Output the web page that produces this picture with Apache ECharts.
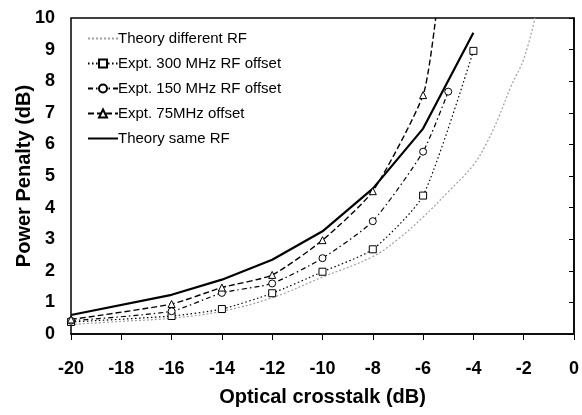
<!DOCTYPE html>
<html>
<head>
<meta charset="utf-8">
<script src="https://cdn.jsdelivr.net/npm/echarts@6/dist/echarts.min.js"></script>
<style>
  html, body { margin: 0; padding: 0; background: #fff; }
  #chart { width: 582px; height: 415px; }
</style>
</head>
<body>
<div id="chart"></div>
<script>
// 数据: 串扰 (dB) 与 功率代价 (dB)
var xTicks = [-20, -18, -16, -14, -12, -10, -8, -6, -4, -2, 0];
var yTicks = [0, 1, 2, 3, 4, 5, 6, 7, 8, 9, 10];

var theoryDiff = [[-20, 0.3], [-18, 0.4], [-16, 0.5], [-14, 0.72], [-12, 1.15], [-10, 1.8],
    [-8, 2.45], [-7, 3.0], [-6, 3.7], [-5, 4.5], [-4, 5.35], [-3.5, 6.0], [-3, 6.85], [-2.5, 7.85], [-2, 8.7], [-1.55, 10]];
var expt300 = [[-20, 0.38], [-16, 0.57], [-14, 0.79], [-12, 1.29], [-10, 1.97], [-8, 2.68], [-6, 4.38], [-4, 8.96]];
var expt150 = [[-20, 0.42], [-16, 0.72], [-14, 1.3], [-12, 1.6], [-10, 2.4], [-8, 3.57], [-6, 5.77], [-5, 7.67]];
var expt75 = [[-20, 0.46], [-16, 0.95], [-14, 1.47], [-12, 1.87], [-10, 2.97], [-8, 4.52], [-6, 7.56]];
var expt75Tail = [-5.5, 10];
var theorySame = [[-20, 0.6], [-16, 1.24], [-14, 1.72], [-12, 2.35], [-10, 3.25], [-8, 4.6], [-6, 6.5], [-4, 9.53]];

var boldFont = 'Liberation Sans, Arial, sans-serif';

//空心标记的实验曲线
function exptSeries(name, symbol, data, dash, width) {
    return {
        name: name,
        type: 'line',
        smooth: 0.2,
        symbol: symbol,
        symbolSize: 7,
        data: data,
        lineStyle: { color: '#000', width: width, type: dash },
        itemStyle: { color: '#fff', borderColor: '#000', borderWidth: 1 }
    };
}

var series = [];
series.push({
    name: 'Theory different RF',
    type: 'line',
    smooth: 0.4,
    symbol: 'none',
    data: theoryDiff,
    lineStyle: { color: '#a0a0a0', width: 1.2, type: [2, 2] },
    itemStyle: { color: 'rgba(0,0,0,0)' }
});
series.push(exptSeries('Expt. 300 MHz RF offset', 'rect', expt300, [1.5, 2.5], 1.2));
series.push(exptSeries('Expt. 150 MHz RF offset', 'circle', expt150, [5, 3, 1.5, 3], 1.2));
series.push(exptSeries('Expt. 75MHz offset', 'triangle',
    expt75.concat([{ value: expt75Tail, symbol: 'none' }]), [6, 3], 1.4));
series.push({
    name: 'Theory same RF',
    type: 'line',
    symbol: 'none',
    data: theorySame,
    lineStyle: { color: '#000', width: 2.2 },
    itemStyle: { color: 'rgba(0,0,0,0)' }
});

var myChart = echarts.init(document.getElementById('chart'));
var option = {
    backgroundColor: '#fff',
    animation: false,
    grid: {
        left: 71,
        right: 5,
        top: 18,
        bottom: 81,
        show: true,
        borderColor: '#000',
        borderWidth: 1.5,
        backgroundColor: 'transparent'
    },
    legend: {
        left: 82,
        top: 26,
        orient: 'vertical',
        itemGap: 10,
        itemWidth: 30,
        itemHeight: 10,
        textStyle: { fontFamily: boldFont, fontSize: 15, color: '#000', padding: [0, 0, 0, -5] },
        data: series.map(function (s) { return s.name; })
    },
    xAxis: {
        type: 'value',
        min: xTicks[0],
        max: xTicks[xTicks.length - 1],
        interval: 2,
        name: 'Optical crosstalk (dB)',
        nameLocation: 'middle',
        nameGap: 53,
        nameMoveOverlap: false,
        nameTextStyle: { fontFamily: boldFont, fontSize: 20, fontWeight: 'bold', color: '#000' },
        axisLine: { show: true, lineStyle: { color: '#000', width: 1.5 } },
        axisTick: { show: true, length: 6, lineStyle: { color: '#000' } },
        axisLabel: { margin: 26, fontFamily: boldFont, fontSize: 18, fontWeight: 'bold', color: '#000' },
        splitLine: { show: false }
    },
    yAxis: {
        type: 'value',
        min: yTicks[0],
        max: yTicks[yTicks.length - 1],
        interval: 1,
        name: 'Power Penalty (dB)',
        nameLocation: 'middle',
        nameGap: 37,
        nameMoveOverlap: false,
        nameTextStyle: { fontFamily: boldFont, fontSize: 20, fontWeight: 'bold', color: '#000' },
        axisLine: { show: true, lineStyle: { color: '#000', width: 1.5 } },
        axisTick: { show: true, length: 5, lineStyle: { color: '#000' } },
        axisLabel: { margin: 16, fontFamily: boldFont, fontSize: 18, fontWeight: 'bold', color: '#000' },
        splitLine: { show: false }
    },
    series: series
};
myChart.setOption(option);
</script>
</body>
</html>
